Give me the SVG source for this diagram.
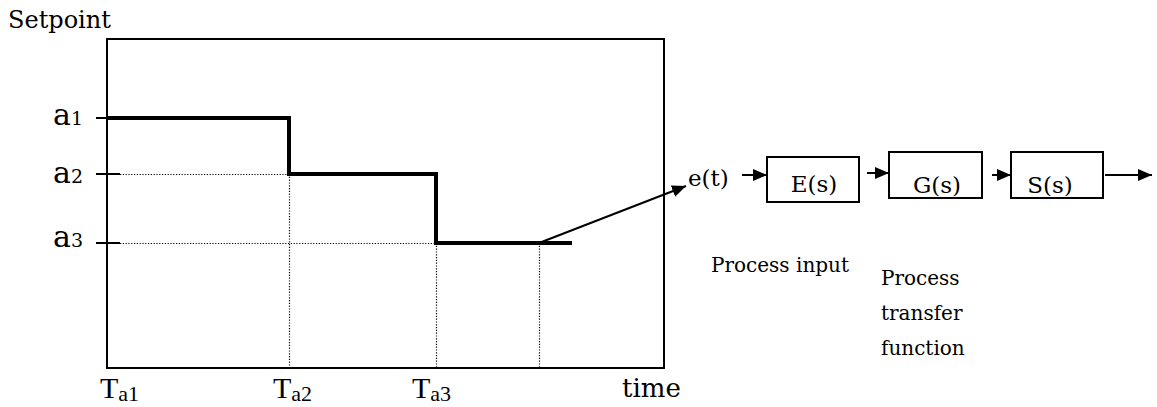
<svg xmlns="http://www.w3.org/2000/svg" width="1157" height="407" viewBox="0 0 1157 407">
  <style>
    .pal { font-family: "DejaVu Serif", "Liberation Serif", serif; fill: #000; }
    .tms { font-family: "Liberation Serif", "Times New Roman", serif; fill: #000; }
    .frame { fill: none; stroke: #000; stroke-width: 2; }
    .tick { stroke: #000; stroke-width: 2; }
    .dot { stroke: #000; stroke-width: 1.2; stroke-dasharray: 1.2 1.6; fill: none; }
    .step { fill: none; stroke: #000; stroke-width: 4; stroke-linejoin: miter; }
    .box { fill: #fff; stroke: #000; stroke-width: 2; }
    .conn { fill: none; stroke: #000; stroke-width: 2; }
  </style>
  <defs>
    <marker id="arr" markerUnits="userSpaceOnUse" markerWidth="16" markerHeight="14" refX="14" refY="6" orient="auto">
      <path d="M0,0 L14,6 L0,12 z" fill="#000"/>
    </marker>
  </defs>
  <rect width="1157" height="407" fill="#fff"/>

  <g id="chart">
    <text class="pal" x="8" y="28" font-size="24">Setpoint</text>
    <rect class="frame" x="107" y="39" width="557" height="329"/>
    <line class="tick" x1="96" y1="118" x2="120" y2="118"/>
    <line class="tick" x1="96" y1="174" x2="120" y2="174"/>
    <line class="tick" x1="96" y1="243" x2="120" y2="243"/>
    <line class="dot" x1="120" y1="174.5" x2="289" y2="174.5"/>
    <line class="dot" x1="120" y1="243.5" x2="436" y2="243.5"/>
    <line class="dot" x1="289.5" y1="174" x2="289.5" y2="367"/>
    <line class="dot" x1="436.5" y1="243" x2="436.5" y2="367"/>
    <line class="dot" x1="539.5" y1="243" x2="539.5" y2="367"/>
    <path class="step" d="M107,118 H289 V174 H436 V243 H572"/>
    <text class="pal" x="53" y="125" font-size="30">a<tspan font-size="19">1</tspan></text>
    <text class="pal" x="53" y="183" font-size="30">a<tspan font-size="19">2</tspan></text>
    <text class="pal" x="53" y="247" font-size="30">a<tspan font-size="19">3</tspan></text>
    <text class="tms" x="100" y="398" font-size="30">T<tspan font-size="22" dy="3">a1</tspan></text>
    <text class="tms" x="273" y="398" font-size="30">T<tspan font-size="22" dy="3">a2</tspan></text>
    <text class="tms" x="412" y="398" font-size="30">T<tspan font-size="22" dy="3">a3</tspan></text>
    <text class="pal" x="622" y="397" font-size="26">time</text>
  </g>

  <g id="et">
    <text class="pal" x="688" y="186" font-size="23">e(t)</text>
  </g>
  <g id="E">
    <rect class="box" x="767" y="157" width="92" height="45"/>
    <text class="pal" x="814" y="192" font-size="23" text-anchor="middle">E(s)</text>
  </g>
  <g id="G">
    <rect class="box" x="889" y="152" width="93" height="46"/>
    <text class="pal" x="937" y="193" font-size="23" text-anchor="middle">G(s)</text>
  </g>
  <g id="S">
    <rect class="box" x="1011" y="152" width="92" height="46"/>
    <text class="pal" x="1050" y="193" font-size="23" text-anchor="middle">S(s)</text>
  </g>
  <g id="labels">
    <text class="pal" x="711" y="272" font-size="20">Process input</text>
    <text class="pal" x="881" y="285" font-size="20">Process</text>
    <text class="pal" x="881" y="320" font-size="20">transfer</text>
    <text class="pal" x="881" y="355" font-size="20">function</text>
  </g>

  <g id="connectors">
    <path class="conn" d="M539,243 L686,186" marker-end="url(#arr)"/>
    <path class="conn" d="M742,175 H767" marker-end="url(#arr)"/>
    <path class="conn" d="M867,173 H889" marker-end="url(#arr)"/>
    <path class="conn" d="M992,175 H1011" marker-end="url(#arr)"/>
    <path class="conn" d="M1105,175 H1152" marker-end="url(#arr)"/>
  </g>
</svg>
